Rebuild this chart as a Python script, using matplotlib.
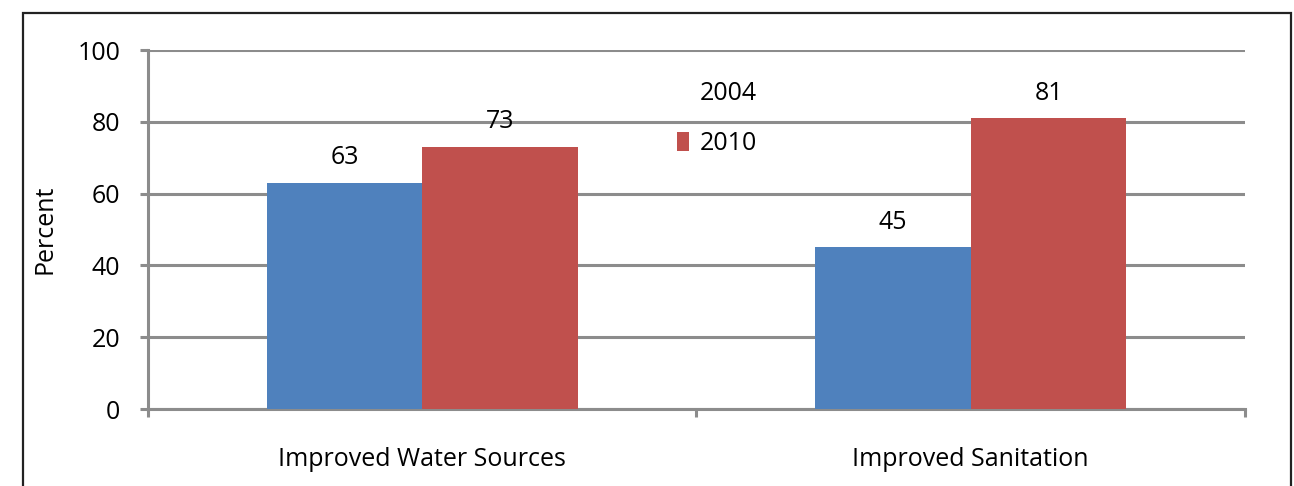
import matplotlib
matplotlib.use("Agg")
import matplotlib.pyplot as plt
from matplotlib.patches import Rectangle, Patch

categories = ["Improved Water Sources", "Improved Sanitation"]
years = ["2004", "2010"]
vals_2004 = [63, 45]
vals_2010 = [73, 81]
yticks = [0, 20, 40, 60, 80, 100]

BLUE, RED, GRID = "#4f81bd", "#c0504d", "#8c8c8c"
FS = 18

plt.rcParams["font.family"] = ["Open Sans", "DejaVu Sans"]

fig = plt.figure(figsize=(12.94, 4.86), dpi=100)
fig.patch.set_facecolor("white")

# outer frame (bottom runs off the image)
fig.add_artist(Rectangle((0.0178, -0.1), 0.980, 1.0733, transform=fig.transFigure,
                         fill=False, edgecolor="#222222", lw=1.6))

ax = fig.add_axes([0.1144, 0.1584, 0.8477, 0.7387])
x = range(len(categories))
w = 0.284
b1 = ax.bar([i - w / 2 for i in x], vals_2004, w, color=BLUE, zorder=3)
b2 = ax.bar([i + w / 2 for i in x], vals_2010, w, color=RED, zorder=3)
for bars, vals in ((b1, vals_2004), (b2, vals_2010)):
    for r, v in zip(bars, vals):
        ax.annotate(f"{v}", (r.get_x() + r.get_width() / 2, v), xytext=(0, 9),
                    textcoords="offset points", ha="center", va="bottom",
                    fontsize=FS, color="black")

ax.set_xlim(-0.5, 1.5)
ax.set_ylim(0, 100)
ax.set_yticks(yticks)
ax.set_yticklabels([str(t) for t in yticks], fontsize=FS)
ax.set_xticks(list(x))
ax.set_xticklabels(categories, fontsize=FS)
ax.set_xticks([-0.5, 0.5, 1.5], minor=True)
ax.tick_params(axis="x", which="major", length=0, pad=27)
ax.tick_params(axis="x", which="minor", length=6, width=2.2, color=GRID)
ax.tick_params(axis="y", length=6, width=2.2, color=GRID, pad=14)
ax.grid(axis="y", color=GRID, lw=2.2, zorder=0)
for s in ("top", "right"):
    ax.spines[s].set_visible(False)
for s in ("left", "bottom"):
    ax.spines[s].set_color(GRID)
    ax.spines[s].set_linewidth(2.2)
ax.set_ylabel("Percent", fontsize=FS, labelpad=14)

handles = [Patch(facecolor="none", edgecolor="none"), Patch(facecolor=RED)]
ax.legend(handles, years, loc="upper left", bbox_to_anchor=(0.462, 0.975),
          frameon=False, fontsize=FS, handlelength=0.45, handleheight=0.8,
          handletextpad=0.45, labelspacing=1.0)

fig.savefig("out.png", facecolor="white")
